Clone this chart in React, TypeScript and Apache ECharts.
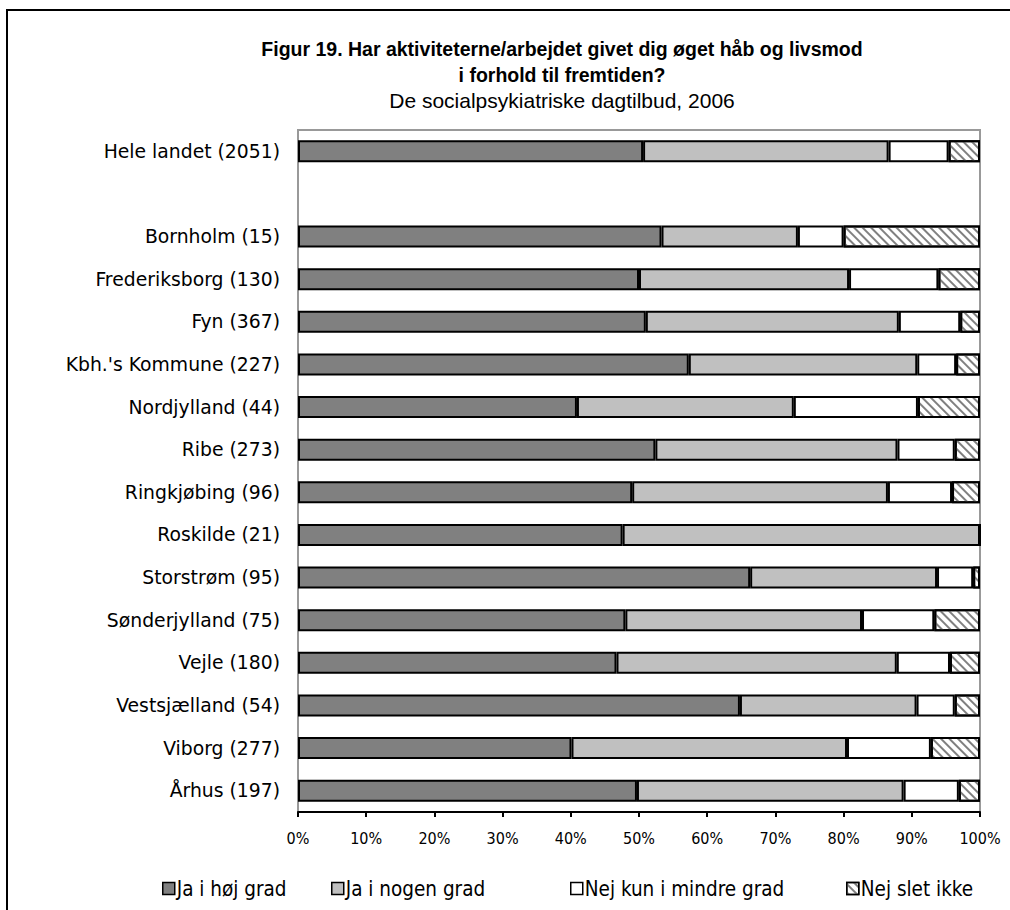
import React, { useEffect, useRef } from "react";
import * as echarts from "echarts";

const titleLine1 = "Figur 19. Har aktiviteterne/arbejdet givet dig øget håb og livsmod";
const titleLine2 = "i forhold til fremtiden?";
const subtitle = "De socialpsykiatriske dagtilbud, 2006";

const categories = [
  "Hele landet (2051)",
  "",
  "Bornholm (15)",
  "Frederiksborg (130)",
  "Fyn (367)",
  "Kbh.'s Kommune (227)",
  "Nordjylland (44)",
  "Ribe (273)",
  "Ringkjøbing (96)",
  "Roskilde (21)",
  "Storstrøm (95)",
  "Sønderjylland (75)",
  "Vejle (180)",
  "Vestsjælland (54)",
  "Viborg (277)",
  "Århus (197)",
];

const seriesNames = ["Ja i høj grad", "Ja i nogen grad", "Nej kun i mindre grad", "Nej slet ikke"];

const jaHoej = [50.6, null, 53.3, 50.0, 51.0, 57.3, 40.9, 52.4, 49.0, 47.6, 66.3, 48.0, 46.7, 64.8, 40.1, 49.7];
const jaNogen = [36.0, null, 20.0, 30.8, 37.1, 33.5, 31.8, 35.5, 37.5, 52.4, 27.4, 34.7, 41.1, 25.9, 40.4, 39.1];
const nejMindre = [8.8, null, 6.7, 13.1, 9.0, 5.7, 18.2, 8.4, 9.4, 0, 5.3, 10.6, 7.8, 5.6, 12.3, 8.1];
const nejSlet = [4.6, null, 20.0, 6.1, 2.9, 3.5, 9.1, 3.7, 4.1, 0, 1.0, 6.7, 4.4, 3.7, 7.2, 3.1];

const xTicks = { min: 0, max: 100, interval: 10 };

const seriesData = [jaHoej, jaNogen, nejMindre, nejSlet];
const seriesColors = ["#808080", "#c0c0c0", "#ffffff", "#ffffff"];
const legendLefts = [157, 326, 565, 841];

export default function App() {
  const ref = useRef<HTMLDivElement>(null);
  useEffect(() => {
    if (!ref.current) return;
    const chart = echarts.init(ref.current, null, { renderer: "svg" });
    const hatch = {
      symbol: "rect",
      symbolSize: 1,
      dashArrayX: [1, 0],
      dashArrayY: [1.5, 4],
      rotation: Math.PI / 4,
      color: "#808080",
      backgroundColor: "#ffffff",
    };
    const catFont = "'DejaVu Sans', Tahoma, Verdana, sans-serif";
    const condFont = "'DejaVu Sans Condensed', 'DejaVu Sans', sans-serif";
    const arial = "'Liberation Sans', Arial, sans-serif";
    chart.setOption({
      animation: false,
      backgroundColor: "#ffffff",
      title: [
        {
          text: titleLine1 + "\n" + titleLine2,
          left: 557,
          top: 31,
          textAlign: "center",
          textStyle: {
            fontFamily: arial,
            fontWeight: "bold",
            fontSize: 19.5,
            lineHeight: 26,
            color: "#000",
          },
        },
        {
          text: subtitle,
          left: 557,
          top: 85,
          textAlign: "center",
          textStyle: {
            fontFamily: arial,
            fontWeight: "normal",
            fontSize: 21,
            color: "#000",
          },
        },
      ],
      legend: seriesNames.map((n, i) => ({
        data: [n],
        left: legendLefts[i],
        top: 873,
        itemWidth: 12,
        itemHeight: 12,
        itemGap: 4,
        icon: "rect",
        selectedMode: false,
        textStyle: { fontFamily: condFont, fontSize: 20.5, color: "#000", padding: [0, 0, 0, -3] },
        itemStyle: { borderColor: "#000", borderWidth: 1.5 },
      })),
      grid: {
        left: 298,
        right: 30,
        top: 130,
        bottom: 98,
        show: true,
        borderColor: "#999999",
        borderWidth: 2,
        backgroundColor: "transparent",
      },
      xAxis: {
        type: "value",
        min: xTicks.min,
        max: xTicks.max,
        interval: xTicks.interval,
        axisLine: { show: true, onZero: false, lineStyle: { color: "#000", width: 2 } },
        axisTick: { show: true, length: 5, inside: false, lineStyle: { color: "#000", width: 2 } },
        splitLine: { show: false },
        axisLabel: {
          formatter: "{value}%",
          margin: 18,
          fontFamily: condFont,
          fontSize: 16,
          color: "#000",
        },
      },
      yAxis: {
        type: "category",
        inverse: true,
        data: categories,
        axisLine: { show: true, lineStyle: { color: "#999999", width: 2 } },
        axisTick: { show: false },
        axisLabel: {
          margin: 18,
          fontFamily: catFont,
          fontSize: 18.8,
          color: "#000",
        },
      },
      series: seriesNames.map((n, i) => ({
        name: n,
        type: "bar",
        stack: "total",
        data: seriesData[i],
        barWidth: 22,
        itemStyle: {
          color: seriesColors[i],
          borderColor: "#000",
          borderWidth: 2,
          ...(i === 3 ? { decal: hatch } : {}),
        },
      })),
      graphic: [
        {
          type: "rect",
          silent: true,
          shape: { x: 7, y: 10, width: 1100, height: 1000 },
          style: { fill: "none", stroke: "#000", lineWidth: 2 },
        },
      ],
    });
    return () => chart.dispose();
  }, []);
  return (
    <div
      ref={ref}
      style={{ position: "absolute", left: 0, top: 0, width: 1010, height: 910 }}
    />
  );
}
